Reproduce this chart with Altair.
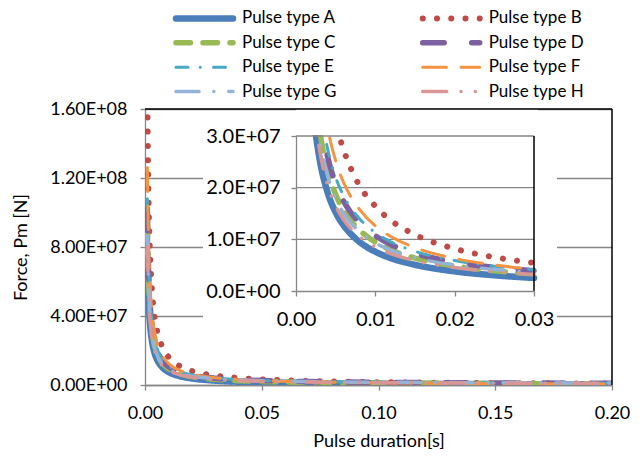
import altair as alt
import pandas as pd

# ---------------- data ----------------
names = ["Pulse type A", "Pulse type B", "Pulse type C", "Pulse type D",
         "Pulse type E", "Pulse type F", "Pulse type G", "Pulse type H"]

t_values = [0.001, 0.0015, 0.002, 0.0025, 0.003, 0.004, 0.005, 0.006, 0.007, 0.008,
            0.01, 0.012, 0.015, 0.02, 0.025, 0.03, 0.04, 0.05, 0.07, 0.1, 0.13, 0.16, 0.2]

force_A = [7.60e7, 5.07e7, 3.80e7, 3.04e7, 2.53e7, 1.90e7, 1.52e7, 1.27e7, 1.09e7, 9.50e6,
           7.60e6, 6.33e6, 5.07e6, 3.80e6, 3.04e6, 2.53e6, 1.90e6, 1.52e6, 1.09e6, 7.6e5, 5.85e5, 4.75e5, 3.8e5]
force_B = [1.635e8, 1.09e8, 8.18e7, 6.54e7, 5.45e7, 4.09e7, 3.27e7, 2.73e7, 2.34e7, 2.04e7,
           1.64e7, 1.36e7, 1.09e7, 8.18e6, 6.54e6, 5.45e6, 4.09e6, 3.27e6, 2.34e6, 1.64e6, 1.26e6, 1.02e6, 8.2e5]
force_C = [9.25e7, 6.18e7, 4.64e7, 3.71e7, 3.10e7, 2.33e7, 1.87e7, 1.56e7, 1.34e7, 1.18e7,
           9.45e6, 7.91e6, 6.37e6, 4.84e6, 3.91e6, 3.30e6, 2.53e6, 2.07e6, 1.54e6, 1.14e6, 9.3e5, 8.0e5, 6.8e5]
force_D = [1.02e8, 6.81e7, 5.12e7, 4.11e7, 3.43e7, 2.59e7, 2.08e7, 1.74e7, 1.50e7, 1.32e7,
           1.07e7, 8.97e6, 7.28e6, 5.59e6, 4.58e6, 3.90e6, 3.06e6, 2.55e6, 1.97e6, 1.53e6, 1.30e6, 1.15e6, 1.03e6]
force_E = [1.08e8, 7.22e7, 5.43e7, 4.35e7, 3.64e7, 2.74e7, 2.20e7, 1.84e7, 1.59e7, 1.40e7,
           1.13e7, 9.48e6, 7.68e6, 5.89e6, 4.81e6, 4.10e6, 3.20e6, 2.66e6, 2.05e6, 1.59e6, 1.34e6, 1.18e6, 1.05e6]
force_F = [1.26e8, 8.40e7, 6.30e7, 5.04e7, 4.20e7, 3.15e7, 2.52e7, 2.10e7, 1.80e7, 1.58e7,
           1.26e7, 1.05e7, 8.40e6, 6.30e6, 5.04e6, 4.20e6, 3.15e6, 2.52e6, 1.80e6, 1.26e6, 9.7e5, 7.9e5, 6.3e5]
force_G = [8.64e7, 5.79e7, 4.36e7, 3.50e7, 2.93e7, 2.22e7, 1.79e7, 1.50e7, 1.30e7, 1.15e7,
           9.31e6, 7.88e6, 6.45e6, 5.03e6, 4.17e6, 3.60e6, 2.88e6, 2.45e6, 1.96e6, 1.60e6, 1.40e6, 1.28e6, 1.17e6]
force_H = [8.00e7, 5.36e7, 4.03e7, 3.24e7, 2.71e7, 2.04e7, 1.65e7, 1.38e7, 1.19e7, 1.05e7,
           8.50e6, 7.18e6, 5.85e6, 4.53e6, 3.73e6, 3.20e6, 2.54e6, 2.14e6, 1.69e6, 1.35e6, 1.16e6, 1.05e6, 9.5e5]

main_x_ticks = [0, 0.05, 0.10, 0.15, 0.20]
main_y_ticks = [0, 4e7, 8e7, 1.2e8, 1.6e8]
inset_x_ticks = [0, 0.01, 0.02, 0.03]
inset_y_ticks = [0, 1e7, 2e7, 3e7]
inset_grid = [1e7, 2e7]
inset_top = [3e7]

# ---------------- styles ----------------
colors = ["#4A7EBB", "#BE4B48", "#98B954", "#7D60A0", "#46AAC5", "#F69240", "#95B3D7", "#D99694"]
dashes = [[1, 0], [0.1, 14.15], [14.5, 12.5], [21.5, 27.5], [12, 12.2, 0.1, 13.2],
          [23.7, 14.7], [23, 14.8, 0.1, 14.8], [24, 14.2, 0.1, 14.3, 0.1, 14.3]]
widths = [6.5, 6, 5.5, 5.5, 3, 3, 3.5, 3.5]

series = [force_A, force_B, force_C, force_D, force_E, force_F, force_G, force_H]
rows = []
for n, vals in zip(names, series):
    for t, v in zip(t_values, vals):
        rows.append({"series": n, "t": t, "F": v})
df = pd.DataFrame(rows)

# legend entries laid out in 2 columns, row-major
legend_df = pd.DataFrame({"series": names,
                          "col": [i % 2 for i in range(len(names))],
                          "row": [i // 2 for i in range(len(names))]})

FONT = "Lato"
FS = 18
FS_LEG = 17
FS_IN = 20
AXC = "#868686"
W, H = 467, 276

color_enc = alt.Color("series:N", scale=alt.Scale(domain=names, range=colors), legend=None)
dash_enc = alt.StrokeDash("series:N", scale=alt.Scale(domain=names, range=dashes), legend=None)
width_enc = alt.StrokeWidth("series:N", scale=alt.Scale(type="ordinal", domain=names, range=widths),
                            legend=None)


def axis_style(fs):
    return dict(domainColor=AXC, tickColor=AXC, domainWidth=1.3, tickWidth=1.3, tickSize=5,
                labelFont=FONT, labelFontSize=fs, labelColor="black", labelFlush=False,
                titleFont=FONT, titleFontSize=FS, titleFontWeight="normal", titleColor="black")


main_lines = alt.Chart(df).mark_line(
    clip=True, strokeCap="round", strokeJoin="round", interpolate="monotone"
).encode(
    x=alt.X("t:Q", scale=alt.Scale(domain=[0, 0.2], nice=False),
            axis=alt.Axis(values=main_x_ticks, format=".2f", title="Pulse duration[s]",
                          grid=False, labelPadding=14, titlePadding=10, **axis_style(FS))),
    y=alt.Y("F:Q", scale=alt.Scale(domain=[0, 1.6e8], nice=False),
            axis=alt.Axis(values=main_y_ticks,
                          labelExpr="replace(format(datum.value, '.2e'), 'e+', 'E+0')",
                          title="Force, Pm [N]", grid=True, gridColor=AXC, gridWidth=1.3,
                          labelPadding=13, titlePadding=19, **axis_style(FS))),
    color=color_enc, strokeDash=dash_enc, strokeWidth=width_enc,
)

one = pd.DataFrame({"k": [0]})

inset_bg = alt.Chart(one).mark_rect(color="white").encode(
    x=alt.value(58), x2=alt.value(412), y=alt.value(14), y2=alt.value(222)
)

inset_scale_x = alt.Scale(domain=[0, 0.03], range=[151, 389], nice=False)
inset_scale_y = alt.Scale(domain=[0, 3e7], range=[182, 27], nice=False)

grid_df = pd.DataFrame({"F": inset_grid})
inset_gridlines = alt.Chart(grid_df).mark_rule(color=AXC, strokeWidth=1.3).encode(
    y=alt.Y("F:Q", scale=inset_scale_y), x=alt.datum(0), x2=alt.datum(0.03)
)

inset_df = df[df["t"] <= 0.0300001]
inset_lines = alt.Chart(inset_df).mark_line(
    clip=True, strokeCap="round", strokeJoin="round", interpolate="monotone"
).encode(
    x=alt.X("t:Q", scale=inset_scale_x,
            axis=alt.Axis(orient="bottom", offset=-94, values=inset_x_ticks, format=".2f",
                          title=None, grid=False, zindex=2, labelPadding=13, **axis_style(FS_IN))),
    y=alt.Y("F:Q", scale=inset_scale_y,
            axis=alt.Axis(orient="left", offset=-151, values=inset_y_ticks,
                          labelExpr="replace(format(datum.value, '.1e'), 'e+', 'E+0')",
                          title=None, grid=False, zindex=2, labelPadding=11, **axis_style(FS_IN))),
    color=color_enc, strokeDash=dash_enc, strokeWidth=width_enc,
)

# white mask hiding the part of the inset curves that rises above the inset's top
inset_mask = alt.Chart(one).mark_rect(color="white", clip=True, yOffset=-1).encode(
    x=alt.datum(0), x2=alt.datum(0.0305), y=alt.datum(3e7), y2=alt.datum(3.8e7)
)

top_df = pd.DataFrame({"F": inset_top})
inset_topline = alt.Chart(top_df).mark_rule(color=AXC, strokeWidth=1.3).encode(
    y=alt.Y("F:Q"), x=alt.datum(0), x2=alt.datum(0.03)
)

inset_border = alt.Chart(one).mark_rule(color="black", strokeWidth=1.5).encode(
    x=alt.datum(0.03), y=alt.datum(0), y2=alt.datum(3e7)
)

main_top = alt.Chart(one).mark_rule(color="black", strokeWidth=1.5).encode(
    x=alt.value(0), x2=alt.value(W), y=alt.value(0)
)
main_right = alt.Chart(one).mark_rule(color="black", strokeWidth=1.5).encode(
    x=alt.value(W), y=alt.value(0), y2=alt.value(H)
)

inset = alt.layer(inset_bg, inset_gridlines, inset_lines, inset_mask, inset_topline,
                  inset_border, main_top, main_right)

# legend (two columns above the plot)
leg_x = alt.Scale(domain=[0, 1], range=[31, 277.7])
leg_y = alt.Scale(domain=[0, 3], range=[-90.6, -17.4])
leg_rule = alt.Chart(legend_df).mark_rule(strokeCap="round", x2Offset=57).encode(
    x=alt.X("col:Q", scale=leg_x, axis=None),
    x2=alt.X2("col:Q"),
    y=alt.Y("row:Q", scale=leg_y, axis=None),
    color=color_enc, strokeDash=dash_enc, strokeWidth=width_enc,
)
leg_text = alt.Chart(legend_df).mark_text(
    align="left", baseline="middle", dx=66, fontSize=FS_LEG, font=FONT, color="black"
).encode(
    x=alt.X("col:Q", scale=leg_x, axis=None),
    y=alt.Y("row:Q", scale=leg_y, axis=None),
    text="series:N",
)
legend_layer = alt.layer(leg_rule, leg_text)

chart = alt.layer(main_lines, inset, legend_layer).resolve_scale(
    x="independent", y="independent"
).resolve_axis(
    x="independent", y="independent"
).properties(
    width=W, height=H,
    autosize=alt.AutoSizeParams(type="none"),
    padding={"left": 137, "top": 101, "right": 23, "bottom": 64},
).configure(font=FONT).configure_view(strokeWidth=0)

chart.save("out.html", embed_options={"renderer": "svg", "actions": False})
